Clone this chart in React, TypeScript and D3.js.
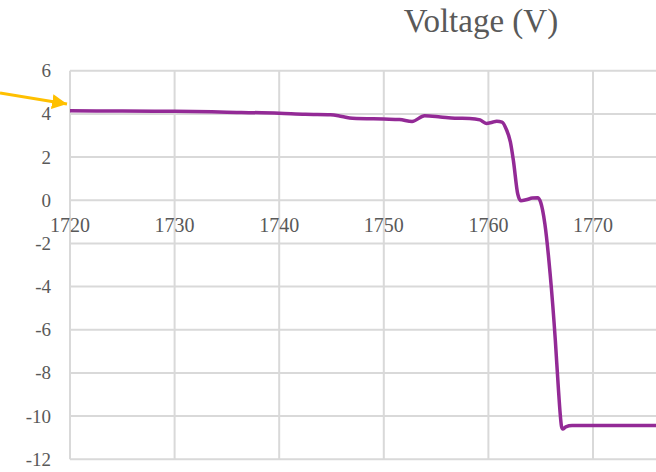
import React from "react";
import * as d3 from "d3";

const years = [1720, 1725, 1730, 1735, 1740, 1742.5, 1744.9, 1746, 1747, 1750, 1751.5, 1752.7, 1753.9, 1755.4, 1756.8, 1758.2, 1759.2, 1759.8, 1760.3, 1760.8, 1761.3, 1761.7, 1762.1, 1762.4, 1762.8, 1763.1, 1763.6, 1764.2, 1764.7, 1765.0, 1765.4, 1765.9, 1766.4, 1766.7, 1767.0, 1767.1, 1767.4, 1768.0, 1770, 1772, 1774, 1776.5];
const voltage = [4.14, 4.13, 4.12, 4.08, 4.03, 3.98, 3.96, 3.88, 3.8, 3.76, 3.74, 3.65, 3.91, 3.86, 3.8, 3.79, 3.72, 3.56, 3.6, 3.66, 3.62, 3.3, 2.7, 1.8, 0.3, -0.02, 0.02, 0.1, 0.12, -0.1, -1.1, -3.4, -6.5, -8.8, -10.5, -10.6, -10.5, -10.44, -10.44, -10.44, -10.44, -10.44];

const xTicks = [1720, 1730, 1740, 1750, 1760, 1770];
const yTicks = [-12, -10, -8, -6, -4, -2, 0, 2, 4, 6];
const title = "Voltage (V)";

export default function App() {
  const W = 656;
  const H = 472;
  const x = d3.scaleLinear().domain([1720, 1780]).range([70, 70 + 60 * 10.46]);
  const y = d3.scaleLinear().domain([-12, 6]).range([459.3, 70.7]);
  const data = years.map((yr, i) => [yr, voltage[i]] as [number, number]);
  const line = d3
    .line<[number, number]>()
    .x((d) => x(d[0]))
    .y((d) => y(d[1]))
    .curve(d3.curveMonotoneX);
  const grid = "#d9d9d9";
  const txt = "#595959";
  const font = "'Liberation Serif', 'Times New Roman', serif";
  return (
    <svg
      width={W}
      height={H}
      style={{ position: "absolute", left: 0, top: 0, background: "#fff" }}
    >
      <text x={481} y={32} textAnchor="middle" fontFamily={font} fontSize={33} fill={txt}>
        {title}
      </text>
      {yTicks.map((t) => (
        <line key={"h" + t} x1={x(1720)} x2={W} y1={y(t)} y2={y(t)} stroke={grid} strokeWidth={2} />
      ))}
      {xTicks.map((t) => (
        <line key={"v" + t} x1={x(t)} x2={x(t)} y1={y(6)} y2={y(-12)} stroke={grid} strokeWidth={2} />
      ))}
      {yTicks.map((t) => (
        <text
          key={"yl" + t}
          x={51}
          y={y(t)}
          textAnchor="end"
          dominantBaseline="central"
          fontFamily={font}
          fontSize={19}
          fill={txt}
        >
          {t < 0 ? "-" + Math.abs(t) : String(t)}
        </text>
      ))}
      {xTicks.map((t) => (
        <text
          key={"xl" + t}
          x={x(t)}
          y={232}
          textAnchor="middle"
          fontFamily={font}
          fontSize={20}
          fill={txt}
        >
          {t}
        </text>
      ))}
      <path d={line(data) || ""} fill="none" stroke="#932A96" strokeWidth={3.5} strokeLinejoin="round" />
      <defs>
        <marker id="ah" viewBox="0 0 10 10" refX={10} refY={5} markerWidth={5} markerHeight={5} orient="auto" markerUnits="strokeWidth">
          <path d="M0,0 L10,5 L0,10 z" fill="#FFC000" />
        </marker>
      </defs>
      <line x1={0} y1={93} x2={67} y2={104} stroke="#FFC000" strokeWidth={3} markerEnd="url(#ah)" />
    </svg>
  );
}
